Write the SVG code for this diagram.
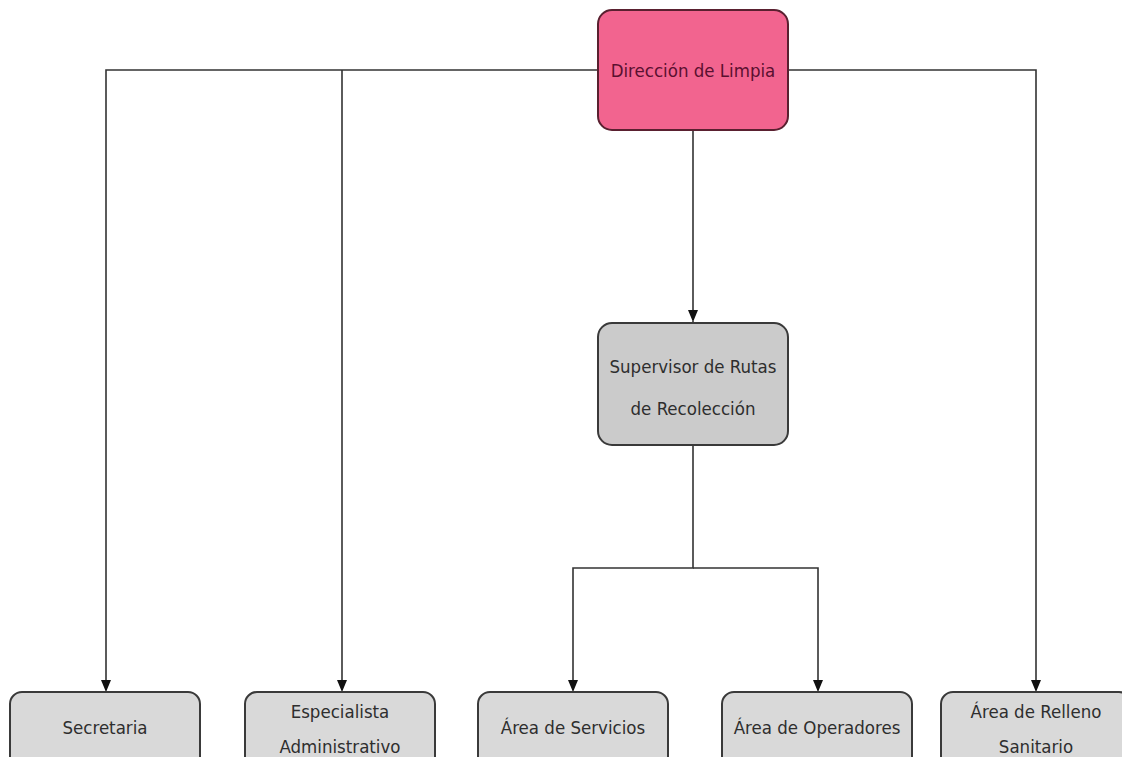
<svg xmlns="http://www.w3.org/2000/svg" width="1122" height="757" viewBox="0 0 1122 757">
<defs>
<marker id="arr" markerWidth="10" markerHeight="14" refX="12" refY="7" orient="auto" markerUnits="userSpaceOnUse">
<path d="M0,2 L12,7 L0,12 Z" fill="#111"/>
</marker>
<style>
.ln{fill:none;stroke:#333;stroke-width:1.6}
.box{fill:#d9d9d9;stroke:#3a3a3a;stroke-width:2}
.top{fill:#f2648f;stroke:#5a2030;stroke-width:2}
.sup{fill:#cbcbcb;stroke:#3a3a3a;stroke-width:2}
.t{font-family:"DejaVu Sans Condensed","Liberation Sans Narrow","Liberation Sans",sans-serif;font-stretch:condensed;font-size:18.5px;fill:#2e2e2e;text-anchor:middle;dominant-baseline:central}
.tt{fill:#5a1030}
</style>
</defs>
<rect width="1122" height="757" fill="#fff"/>
<g id="connectors">
<path class="ln" d="M598,70 H106 V692" marker-end="url(#arr)"/>
<path class="ln" d="M342,70 V692" marker-end="url(#arr)"/>
<path class="ln" d="M788,70 H1036 V692" marker-end="url(#arr)"/>
<path class="ln" d="M693,130 V322" marker-end="url(#arr)"/>
<path class="ln" d="M693,445 V568 H573 V692" marker-end="url(#arr)"/>
<path class="ln" d="M693,568 H818 V692" marker-end="url(#arr)"/>
</g>
<g id="direccion">
<rect class="top" x="598" y="10" width="190" height="120" rx="14"/>
<text class="t tt" x="693" y="70">Dirección de Limpia</text>
</g>
<g id="supervisor">
<rect class="sup" x="598" y="323" width="190" height="122" rx="14"/>
<text class="t" x="693" y="366">Supervisor de Rutas</text>
<text class="t" x="693" y="408">de Recolección</text>
</g>
<g id="secretaria">
<rect class="box" x="10" y="692" width="190" height="80" rx="12"/>
<text class="t" x="105" y="727">Secretaria</text>
</g>
<g id="especialista">
<rect class="box" x="245" y="692" width="190" height="80" rx="12"/>
<text class="t" x="340" y="711">Especialista</text>
<text class="t" x="340" y="746">Administrativo</text>
</g>
<g id="servicios">
<rect class="box" x="478" y="692" width="190" height="80" rx="12"/>
<text class="t" x="573" y="727">Área de Servicios</text>
</g>
<g id="operadores">
<rect class="box" x="722" y="692" width="190" height="80" rx="12"/>
<text class="t" x="817" y="727">Área de Operadores</text>
</g>
<g id="relleno">
<rect class="box" x="941" y="692" width="190" height="80" rx="12"/>
<text class="t" x="1036" y="711">Área de Relleno</text>
<text class="t" x="1036" y="746">Sanitario</text>
</g>
</svg>
